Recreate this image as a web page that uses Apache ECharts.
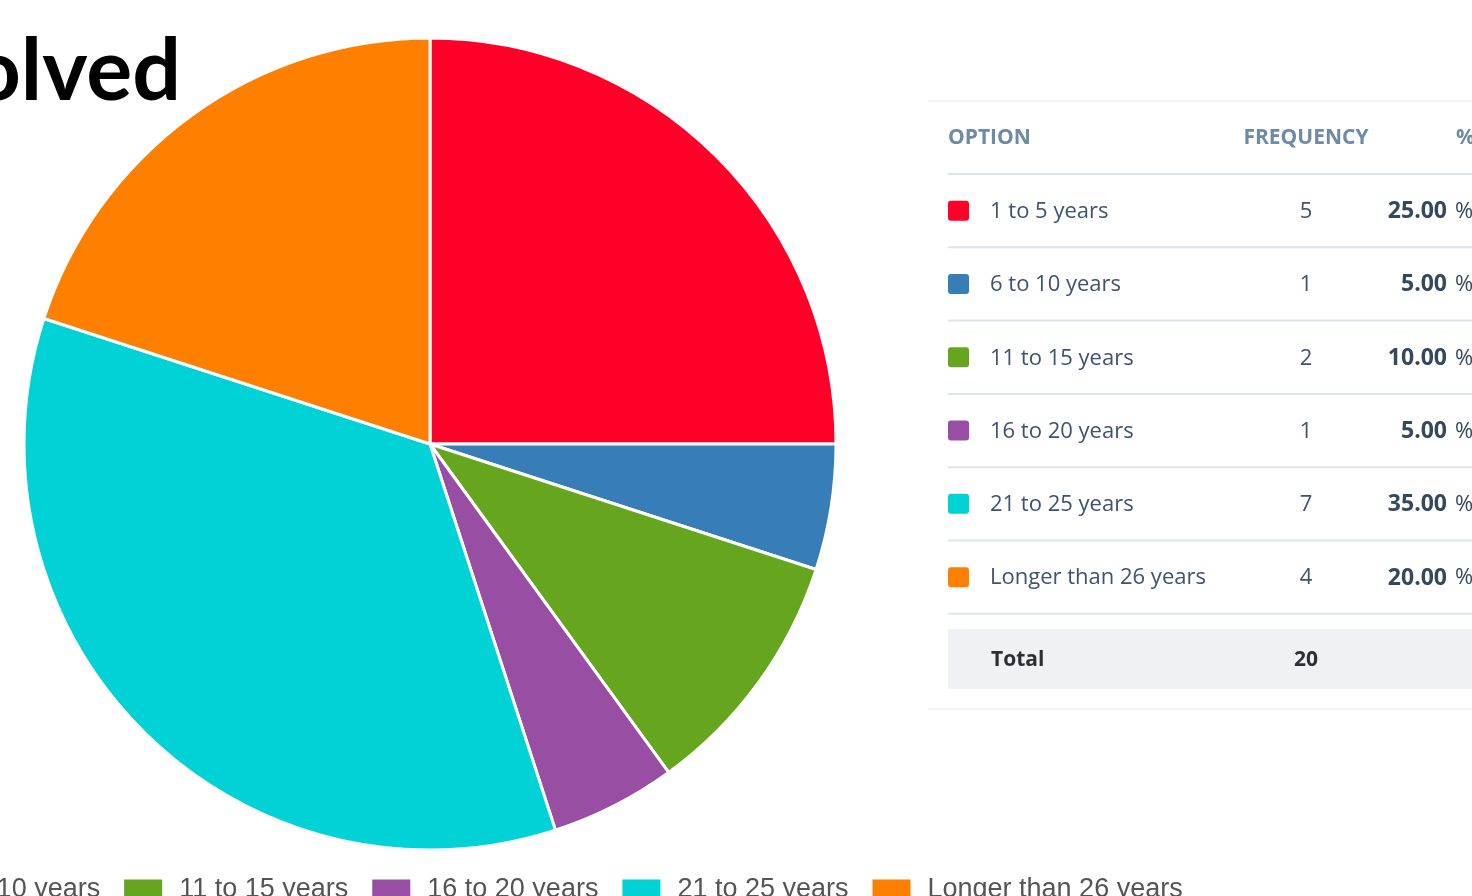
<!DOCTYPE html>
<html>
<head>
<meta charset="utf-8">
<title>Years involved</title>
<script src="https://cdn.jsdelivr.net/npm/echarts@6/dist/echarts.min.js"></script>
<style>
  html, body { margin: 0; padding: 0; background: #fff; }
  #main { width: 1472px; height: 896px; }
</style>
</head>
<body>
<div id="main"></div>
<script>
// dados
const categorias = ['1 to 5 years', '6 to 10 years', '11 to 15 years', '16 to 20 years', '21 to 25 years', 'Longer than 26 years'];
const frequencias = [5, 1, 2, 1, 7, 4];
const percentuais = ['25.00', '5.00', '10.00', '5.00', '35.00', '20.00'];
const total = 20;
const cores = ['#ff0029', '#377eb8', '#66a61e', '#984ea3', '#00d2d5', '#ff7f00'];
const cabecalho = ['OPTION', 'FREQUENCY', '%'];

const chart = echarts.init(document.getElementById('main'));

// tabela do lado direito
const fonte = '"Open Sans", "Noto Sans", sans-serif';
const tabX = 948, tabFim = 1472, topoLinhas = 174, alturaLinha = 73.3;
const graficos = [];

graficos.push({ type: 'line', shape: { x1: 928, y1: 101, x2: tabFim, y2: 101 }, style: { stroke: '#f1f3f6', lineWidth: 2 } });
graficos.push({ type: 'line', shape: { x1: 928, y1: 709, x2: tabFim, y2: 709 }, style: { stroke: '#f1f3f6', lineWidth: 2 } });

const corCab = '#6d8aa6';
graficos.push({ type: 'text', x: tabX, y: 138, style: { text: cabecalho[0], fill: corCab, font: 'bold 21px ' + fonte, textVerticalAlign: 'middle' } });
graficos.push({ type: 'text', x: 1306, y: 138, style: { text: cabecalho[1], fill: corCab, font: 'bold 21px ' + fonte, textAlign: 'center', textVerticalAlign: 'middle' } });
graficos.push({ type: 'text', x: 1456, y: 138, style: { text: cabecalho[2], fill: corCab, font: 'bold 21px ' + fonte, textVerticalAlign: 'middle' } });

graficos.push({ type: 'line', shape: { x1: tabX, y1: topoLinhas, x2: tabFim, y2: topoLinhas }, style: { stroke: '#dce4ee', lineWidth: 2 } });

categorias.forEach((cat, i) => {
    const cy = topoLinhas + alturaLinha * (i + 0.5);
    graficos.push({ type: 'rect', shape: { x: tabX, y: cy - 10, width: 21, height: 20, r: 3 }, style: { fill: cores[i] } });
    graficos.push({ type: 'text', x: 990, y: cy + 1, style: { text: cat, fill: '#3d5370', font: '22px ' + fonte, textVerticalAlign: 'middle' } });
    graficos.push({ type: 'text', x: 1306, y: cy + 1, style: { text: String(frequencias[i]), fill: '#3d5370', font: '22px ' + fonte, textAlign: 'center', textVerticalAlign: 'middle' } });
    graficos.push({ type: 'text', x: 1447, y: cy + 1, style: { text: percentuais[i], fill: '#34485f', font: 'bold 23px ' + fonte, textAlign: 'right', textVerticalAlign: 'middle' } });
    graficos.push({ type: 'text', x: 1455, y: cy + 1, style: { text: '%', fill: '#34485f', font: '22px ' + fonte, textVerticalAlign: 'middle' } });
    graficos.push({ type: 'line', shape: { x1: tabX, y1: topoLinhas + alturaLinha * (i + 1), x2: tabFim, y2: topoLinhas + alturaLinha * (i + 1) }, style: { stroke: '#dce4ee', lineWidth: 2 } });
});

// linha do total
graficos.push({ type: 'rect', shape: { x: tabX, y: 629, width: tabFim - tabX, height: 60 }, style: { fill: '#f0f1f4' } });
graficos.push({ type: 'text', x: 991, y: 660, style: { text: 'Total', fill: '#2b2f36', font: 'bold 21px ' + fonte, textVerticalAlign: 'middle' } });
graficos.push({ type: 'text', x: 1306, y: 660, style: { text: String(total), fill: '#2b2f36', font: 'bold 21px ' + fonte, textAlign: 'center', textVerticalAlign: 'middle' } });

// titulo cortado do slide
graficos.push({ type: 'text', x: 181, y: 72, style: { text: 'olved', fill: '#000', font: 'bold 86px Lato, "Liberation Sans", sans-serif', textAlign: 'right', textVerticalAlign: 'middle' } });

const option = {
    animation: false,
    color: cores,
    legend: {
        data: categorias,
        left: -336,
        top: 871,
        orient: 'horizontal',
        icon: 'rect',
        itemWidth: 38,
        itemHeight: 20,
        itemGap: 24,
        itemStyle: { borderWidth: 0 },
        textStyle: { fontSize: 27, color: '#555', padding: [0, 0, 0, 12], fontFamily: '"Liberation Sans", sans-serif' }
    },
    series: [{
        type: 'pie',
        center: [430, 444],
        radius: 406,
        startAngle: 90,
        clockwise: true,
        label: { show: false },
        labelLine: { show: false },
        emphasis: { disabled: true },
        itemStyle: { borderColor: '#fff', borderWidth: 3 },
        data: categorias.map((nome, i) => ({ name: nome, value: frequencias[i] }))
    }],
    graphic: graficos
};

chart.setOption(option);
</script>
</body>
</html>
